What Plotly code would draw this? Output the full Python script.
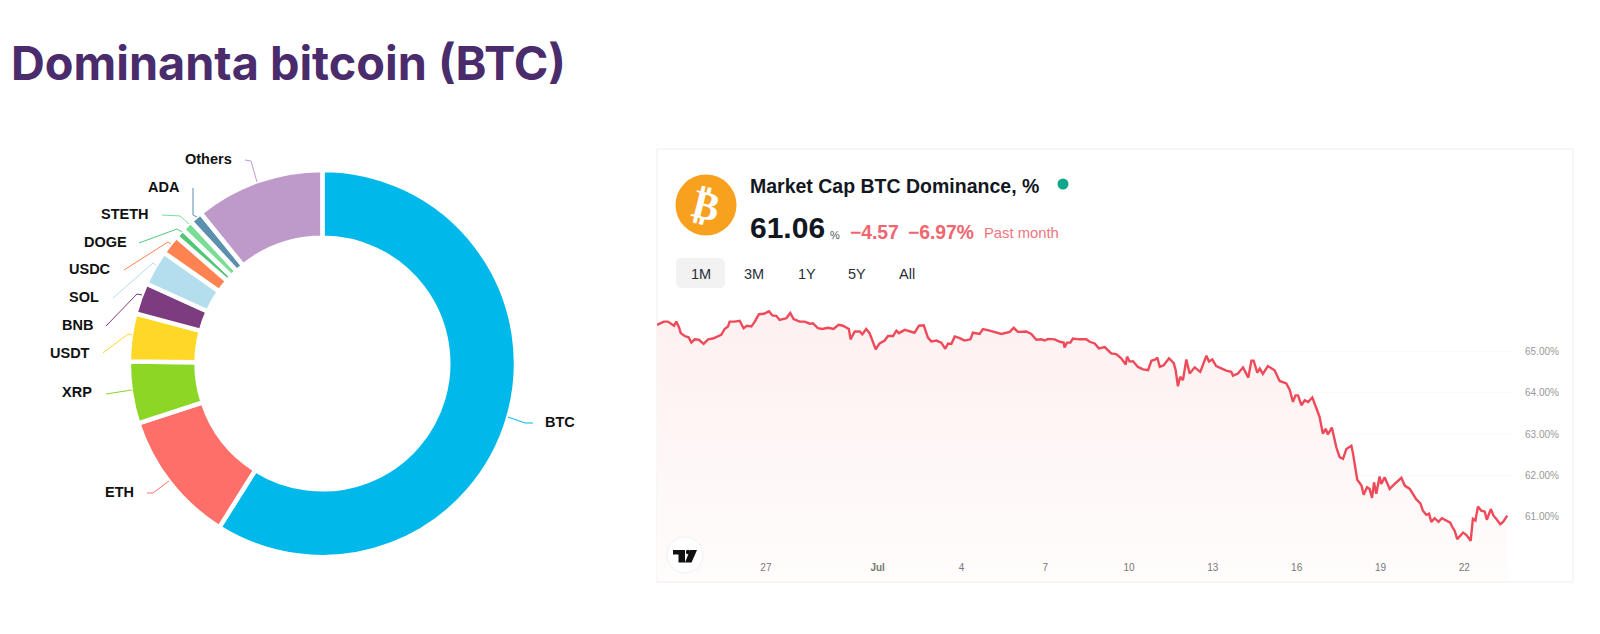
import pandas as pd
import plotly.graph_objects as go

# ---------- data ----------
coins = ["BTC", "ETH", "XRP", "USDT", "BNB", "SOL", "USDC", "DOGE", "STETH", "ADA", "Others"]
shares = [58.94, 11.06, 5.17, 4.0, 2.61, 2.94, 1.67, 0.78, 0.94, 1.06, 10.83]
coin_colors = ["#00B8E9", "#FF6F69", "#8CD625", "#FFD726", "#7D3C7F", "#B4DEEE",
               "#FF8350", "#53C777", "#7ADD96", "#5B8FB0", "#BE9ACB"]

days_from_start = [
    0, .10, .24, .39, .51, .61, .69, .79, .85, .99, 1.13, 1.23, 1.35, 1.50, 1.67, 1.83, 2.00, 2.18, 2.30, 2.42,
    2.54, 2.60, 2.78, 2.96, 3.10, 3.22, 3.38, 3.50, 3.65, 3.82, 4.01, 4.13, 4.27, 4.39, 4.63, 4.77, 4.89, 5.11,
    5.29, 5.47, 5.58, 5.76, 5.92, 6.12, 6.32, 6.50, 6.66, 6.87, 6.93, 7.08, 7.26, 7.35, 7.49, 7.61, 7.71, 7.83,
    7.97, 8.15, 8.27, 8.45, 8.57, 8.66, 8.87, 9.05, 9.22, 9.38, 9.55, 9.70, 9.82, 10.0, 10.18, 10.32, 10.42,
    10.54, 10.66, 10.84, 11.01, 11.22, 11.31, 11.55, 11.67, 11.91, 12.21, 12.33, 12.63, 12.77, 12.92, 13.22,
    13.40, 13.58, 13.76, 13.88, 14.0, 14.24, 14.42, 14.56, 14.59, 14.68, 14.80, 14.89, 15.13, 15.37,
    15.49, 15.67, 15.82, 16.03, 16.26, 16.44, 16.62, 16.78, 16.83, 16.92, 17.04, 17.22, 17.40, 17.58, 17.70,
    17.84, 17.91, 18.0, 18.14, 18.33, 18.50, 18.57, 18.65, 18.73, 18.83, 18.95, 19.07, 19.25, 19.45, 19.67,
    19.76, 19.88, 20.02, 20.26, 20.38, 20.56, 20.62, 20.80, 20.98, 21.17, 21.28, 21.36, 21.49, 21.58, 21.69,
    21.87, 22.11, 22.29, 22.53, 22.65, 22.77, 22.86, 22.95, 23.07, 23.19, 23.31, 23.46, 23.60, 23.72, 23.84,
    23.94, 24.02, 24.16, 24.32, 24.44, 24.56, 24.68, 24.86, 24.92, 25.07, 25.22, 25.30, 25.42, 25.51, 25.60,
    25.67, 25.75, 25.87, 25.93, 26.05, 26.23, 26.41, 26.65, 26.77, 26.95, 27.18, 27.33, 27.42, 27.54, 27.64,
    27.72, 27.84, 27.98, 28.10, 28.26, 28.40, 28.47, 28.56, 28.65, 28.74, 28.86, 28.98, 29.13, 29.21, 29.30,
    29.39, 29.51, 29.63, 29.71, 29.85, 29.95, 30.05, 30.19, 30.29, 30.44]
dominance = [
    65.65, 65.69, 65.73, 65.73, 65.68, 65.63, 65.73, 65.59, 65.45, 65.38, 65.35, 65.22, 65.30, 65.29, 65.19, 65.30,
    65.32, 65.37, 65.41, 65.55, 65.61, 65.73, 65.73, 65.75, 65.57, 65.63, 65.61, 65.73, 65.91, 65.92, 65.98, 65.88,
    65.87, 65.77, 65.81, 65.94, 65.79, 65.73, 65.73, 65.68, 65.69, 65.57, 65.55, 65.58, 65.55, 65.65, 65.63, 65.55,
    65.30, 65.49, 65.49, 65.42, 65.55, 65.45, 65.27, 65.06, 65.20, 65.27, 65.38, 65.38, 65.51, 65.45, 65.53, 65.49,
    65.46, 65.63, 65.64, 65.34, 65.25, 65.27, 65.22, 65.07, 65.20, 65.19, 65.37, 65.33, 65.27, 65.30, 65.46, 65.43,
    65.55, 65.51, 65.46, 65.43, 65.48, 65.58, 65.48, 65.49, 65.43, 65.29, 65.30, 65.27, 65.31, 65.30, 65.24, 65.22,
    65.10, 65.22, 65.22, 65.32, 65.30, 65.30,
    65.24, 65.20, 65.08, 65.11, 64.96, 64.94, 64.84, 64.69, 64.88, 64.76, 64.77, 64.63, 64.57, 64.55, 64.78, 64.81,
    64.86, 64.63, 64.67, 64.84, 64.72, 64.55, 64.16, 64.39, 64.31, 64.81, 64.47, 64.62, 64.51, 64.90, 64.76, 64.81,
    64.65, 64.57, 64.54, 64.51, 64.42, 64.47, 64.62, 64.37, 64.78, 64.78, 64.49, 64.59, 64.46, 64.65, 64.55, 64.29,
    64.23, 64.08, 63.78, 63.94, 63.94, 63.70, 63.82, 63.78, 63.89, 63.64, 63.42, 63.01, 63.13, 62.99, 63.16, 62.68,
    62.44, 62.40, 62.64, 62.72, 62.52, 61.89, 61.75, 61.53, 61.71, 61.67, 61.45, 61.83, 61.55, 61.97, 61.79, 61.95,
    61.67, 61.79, 61.94, 61.75, 61.67, 61.42, 61.32, 61.14, 61.04, 61.07, 60.87, 60.96, 60.87, 60.96, 60.90, 60.85,
    60.75, 60.65, 60.45, 60.53, 60.61, 60.55, 60.41, 60.94, 60.90, 61.24, 61.14, 61.12, 60.92, 61.18, 61.02, 60.94,
    60.81, 60.87, 61.02]
start_date = "2025-06-23 02:24"
x_tick_dates = ["2025-06-27", "2025-07-01", "2025-07-04", "2025-07-07", "2025-07-10",
                "2025-07-13", "2025-07-16", "2025-07-19", "2025-07-22"]
x_tick_labels = ["27", "<b>Jul</b>", "4", "7", "10", "13", "16", "19", "22"]
y_ticks = [61, 62, 63, 64, 65]
y_tick_labels = ["61.00%", "62.00%", "63.00%", "64.00%", "65.00%"]

# ---------- layout helpers (page pixels -> paper fractions) ----------
W, H = 1600, 634
fx = lambda p: p / W
fy = lambda p: 1 - p / H

dates = pd.Timestamp(start_date) + pd.to_timedelta(days_from_start, unit="D")

fig = go.Figure()

# doughnut
cx, cy, r = 322.4, 363.5, 193.6
fig.add_trace(go.Pie(
    labels=coins, values=shares, sort=False, direction="clockwise", rotation=0, hole=0.65,
    marker=dict(colors=coin_colors, line=dict(color="white", width=4.5)),
    textinfo="none", hoverinfo="label+percent", showlegend=False,
    domain=dict(x=[fx(cx - r), fx(cx + r)], y=[fy(cy + r), fy(cy - r)]),
))

# dominance line
fig.add_trace(go.Scatter(
    x=dates, y=dominance, mode="lines", line=dict(color="#EF4A5A", width=2.4), showlegend=False,
    fill="tozeroy",
    fillgradient=dict(type="vertical", start=66.0, stop=59.43,
                      colorscale=[[0, "rgb(254,240,240)"], [1, "rgb(255,252,252)"]]),
    hovertemplate="%{x|%b %d}: %{y:.2f}%<extra></extra>",
))

fig.update_layout(
    width=W, height=H, margin=dict(l=0, r=0, t=0, b=0), paper_bgcolor="white", plot_bgcolor="rgba(0,0,0,0)",
    font=dict(family="Liberation Sans"),
    xaxis=dict(domain=[fx(657), fx(1512)],
               range=[pd.Timestamp(start_date), pd.Timestamp(start_date) + pd.Timedelta(days=30.61)],
               tickmode="array", tickvals=x_tick_dates, ticktext=x_tick_labels,
               tickfont=dict(size=10, color="#777777"), showgrid=False, zeroline=False, showline=False,
               ticks="", ticklabelposition="inside", ticklabelstandoff=5),
    yaxis=dict(domain=[fy(581), fy(305)], range=[59.434, 66.133], side="right",
               tickmode="array", tickvals=y_ticks, ticktext=y_tick_labels,
               tickfont=dict(size=10, color="#999999"), gridcolor="#fbf9f9", gridwidth=1, zeroline=False,
               showline=False, ticks="outside", ticklen=10, tickcolor="rgba(0,0,0,0)"),
)

shapes, notes = [], []

def text(x, y, s, size, color, bold=False, anchor="center", family="Liberation Sans", angle=0, weight=None):
    notes.append(dict(xref="paper", yref="paper", x=fx(x), y=fy(y), text=s, showarrow=False,
                      xanchor=anchor, yanchor="middle", textangle=angle,
                      font=dict(size=size, color=color, family=family,
                                weight=weight if weight else (700 if bold else 400))))

# doughnut labels and leaders
label_pos = [(560, 422), (119, 492), (77, 392), (70, 353), (77, 325), (84, 297),
             (90, 269), (105, 242), (125, 214), (164, 187), (208, 159)]
leaders = [
    [(533, 423), (525, 423), (508, 417)],
    [(147, 493), (153, 493), (169, 481)],
    [(106, 394), (132, 390)],
    [(103, 353), (128, 334), (132, 335)],
    [(106, 326), (137, 294), (142, 295)],
    [(113, 298), (153, 263), (156, 265)],
    [(124, 270), (168, 242), (171, 244)],
    [(139, 243), (177, 229), (182, 232)],
    [(162, 215), (180, 216), (189, 224)],
    [(193, 188), (193, 215), (197, 217)],
    [(245, 160), (251, 161), (257, 182)],
]
for name, col, (lx, ly), pts in zip(coins, coin_colors, label_pos, leaders):
    text(lx, ly, name, 14.5, "#111111", bold=True)
    path = "M" + " L".join(f"{fx(a):.5f},{fy(b):.5f}" for a, b in pts)
    shapes.append(dict(type="path", xref="paper", yref="paper", path=path, line=dict(color=col, width=1)))

# title
text(9, 63, "Dominanta bitcoin (BTC)", 46.8, "#4A2C6D", anchor="left", family="Inter", weight=700)

# card
def rect(x0, y0, x1, y1, **kw):
    shapes.append(dict(type="rect", xref="paper", yref="paper", x0=fx(x0), x1=fx(x1), y0=fy(y0), y1=fy(y1), **kw))

def circle(x, y, rad, **kw):
    shapes.append(dict(type="circle", xref="paper", yref="paper", x0=fx(x - rad), x1=fx(x + rad),
                       y0=fy(y + rad), y1=fy(y - rad), **kw))

rect(657, 149, 1573, 582, line=dict(color="#eeeeee", width=1), layer="below")
circle(706, 205, 30.5, fillcolor="#F7A11F", line=dict(width=0))
text(706, 205, "₿", 40, "white", bold=True, family="DejaVu Sans", angle=14)
text(748, 186, "Market Cap BTC Dominance, %", 19.5, "#131722", bold=True, anchor="left")
circle(1063, 184, 5.5, fillcolor="#0FA68A", line=dict(width=0))
text(748, 227, "61.06", 30, "#131722", bold=True, anchor="left")
text(828, 235, "%", 11, "#555555", anchor="left")
text(848, 233, "−4.57", 19.3, "#F0656F", bold=True, anchor="left")
text(906, 233, "−6.97%", 19.3, "#F0656F", bold=True, anchor="left")
text(982, 233, "Past month", 14.8, "#F0757E", anchor="left")

# range buttons
rx0, rx1, ry0, ry1, rr = 676, 725, 258, 288, 6
shapes.append(dict(type="path", xref="paper", yref="paper", fillcolor="#F2F2F3", line=dict(width=0),
    path=(f"M{fx(rx0+rr)},{fy(ry0)} L{fx(rx1-rr)},{fy(ry0)} Q{fx(rx1)},{fy(ry0)} {fx(rx1)},{fy(ry0+rr)} "
          f"L{fx(rx1)},{fy(ry1-rr)} Q{fx(rx1)},{fy(ry1)} {fx(rx1-rr)},{fy(ry1)} L{fx(rx0+rr)},{fy(ry1)} "
          f"Q{fx(rx0)},{fy(ry1)} {fx(rx0)},{fy(ry1-rr)} L{fx(rx0)},{fy(ry0+rr)} Q{fx(rx0)},{fy(ry0)} {fx(rx0+rr)},{fy(ry0)} Z")))
for bx, lab in zip([701, 754, 807, 857, 907], ["1M", "3M", "1Y", "5Y", "All"]):
    text(bx, 274, lab, 14.5, "#2A2E39")

# TradingView mark
circle(685, 555, 18, fillcolor="white", line=dict(color="#f0f0f0", width=1))
def poly(pts, color):
    shapes.append(dict(type="path", xref="paper", yref="paper", fillcolor=color, line=dict(width=0),
                       path="M" + " L".join(f"{fx(a):.5f},{fy(b):.5f}" for a, b in pts) + " Z"))
poly([(673, 550), (685, 550), (685, 562.5), (678.5, 562.5), (678.5, 554.5), (673, 554.5)], "#111111")
poly([(690, 550), (697, 550), (691.5, 562.5), (685, 562.5)], "#111111")
circle(688, 552, 2.2, fillcolor="#111111", line=dict(width=0))

fig.update_layout(shapes=shapes, annotations=notes)
fig.write_html("out.html", config={"displayModeBar": False}, post_script="document.body.style.margin='0';")
